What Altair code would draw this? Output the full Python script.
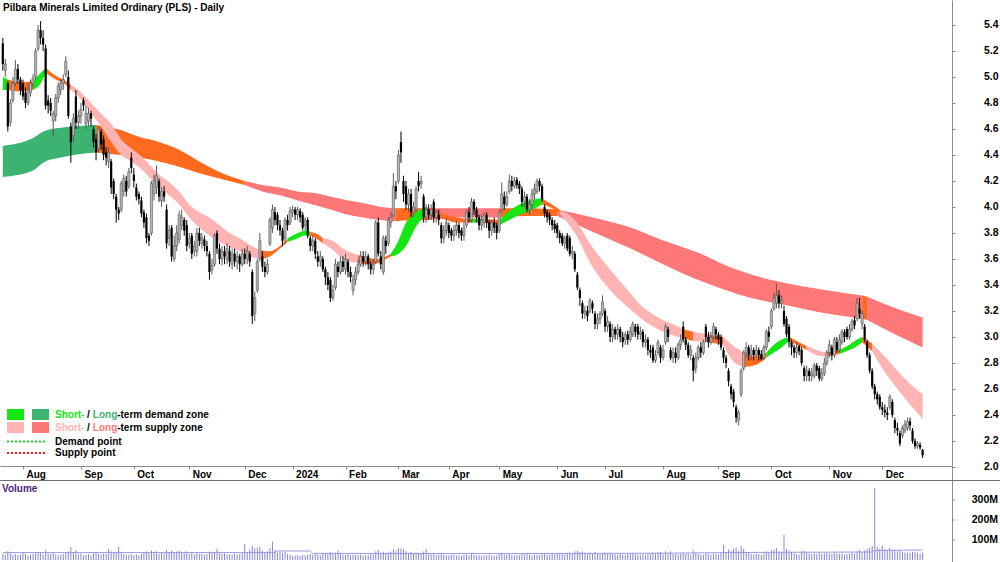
import altair as alt
import pandas as pd
import numpy as np

TITLE = "Pilbara Minerals Limited Ordinary (PLS) - Daily"
start_date = "2023-07-20"
asx_holidays = ["2023-12-25", "2023-12-26", "2024-01-01", "2024-01-26",
                "2024-03-29", "2024-04-01", "2024-04-25", "2024-06-10"]

# daily OHLC in cents
open_c = [526, 505, 495, 465, 482, 495, 506, 498, 495, 488,
          480, 488, 495, 500, 522, 536, 530, 522, 482, 480,
          466, 470, 484, 490, 495, 502, 500, 462, 455, 485,
          465, 470, 482, 464, 466, 472, 460, 452, 445, 458,
          452, 442, 435, 435, 420, 408, 398, 398, 412, 420,
          416, 438, 425, 415, 410, 405, 396, 392, 378, 380,
          410, 415, 420, 405, 412, 398, 376, 384, 360, 370,
          375, 386, 390, 386, 372, 378, 366, 366, 380, 372,
          375, 370, 364, 352, 356, 380, 368, 360, 366, 360,
          366, 356, 364, 358, 362, 356, 364, 360, 364, 350,
          318, 336, 360, 362, 354, 350, 372, 384, 396, 394,
          386, 382, 376, 390, 388, 396, 398, 394, 397, 394,
          386, 390, 376, 370, 374, 362, 358, 360, 352, 346,
          344, 330, 338, 354, 350, 358, 352, 358, 350, 336,
          344, 350, 356, 362, 358, 362, 356, 352, 358, 388,
          362, 350, 374, 372, 388, 394, 416, 420, 450, 420,
          416, 402, 410, 396, 398, 420, 418, 408, 392, 398,
          394, 404, 392, 394, 386, 376, 382, 386, 382, 378,
          382, 386, 382, 378, 386, 396, 390, 404, 398, 392,
          386, 388, 394, 388, 382, 388, 386, 382, 398, 408,
          402, 412, 420, 416, 421, 418, 414, 404, 408, 398,
          402, 410, 412, 420, 416, 400, 396, 394, 390, 387,
          386, 380, 378, 372, 378, 376, 364, 364, 348, 336,
          326, 318, 320, 320, 326, 318, 310, 314, 318, 320,
          308, 310, 300, 306, 302, 306, 300, 298, 302, 298,
          302, 308, 308, 302, 304, 296, 298, 290, 292, 282,
          288, 292, 284, 296, 306, 290, 284, 288, 284, 294,
          308, 298, 294, 286, 284, 276, 284, 292, 288, 308,
          300, 296, 300, 306, 302, 300, 290, 284, 274, 262,
          258, 246, 236, 256, 276, 288, 292, 286, 290, 286,
          290, 287, 284, 292, 304, 308, 322, 326, 332, 326,
          320, 314, 308, 296, 292, 288, 293, 290, 276, 270,
          274, 270, 270, 278, 276, 268, 272, 280, 288, 292,
          286, 296, 290, 296, 304, 306, 300, 306, 313, 314,
          322, 310, 308, 296, 286, 274, 262, 256, 254, 246,
          244, 242, 246, 250, 236, 230, 226, 224, 228, 230,
          235, 228, 220, 216, 217, 213]
high_c = [530, 514, 497, 483, 500, 513, 510, 500, 498, 492,
          495, 498, 502, 522, 540, 543, 536, 525, 486, 484,
          474, 487, 496, 498, 502, 516, 505, 465, 472, 490,
          474, 480, 484, 478, 476, 474, 462, 456, 462, 460,
          455, 446, 446, 437, 422, 410, 400, 420, 425, 424,
          430, 442, 430, 418, 412, 408, 398, 395, 380, 420,
          425, 432, 422, 415, 416, 402, 386, 386, 378, 386,
          397, 398, 392, 390, 380, 380, 374, 384, 384, 380,
          378, 374, 366, 360, 380, 382, 372, 370, 370, 372,
          370, 368, 368, 366, 364, 368, 368, 370, 366, 352,
          335, 360, 380, 366, 358, 360, 392, 402, 400, 396,
          390, 384, 392, 394, 400, 401, 400, 400, 399, 396,
          392, 392, 378, 378, 376, 366, 366, 362, 354, 350,
          346, 340, 360, 358, 362, 362, 364, 360, 354, 348,
          354, 360, 366, 366, 366, 364, 358, 360, 390, 392,
          366, 378, 378, 392, 396, 426, 420, 444, 458, 424,
          420, 414, 414, 404, 416, 427, 424, 410, 402, 402,
          402, 406, 398, 398, 388, 386, 392, 388, 384, 386,
          390, 388, 384, 388, 398, 400, 407, 406, 400, 394,
          394, 396, 396, 390, 390, 392, 388, 398, 419, 412,
          412, 425, 424, 423, 423, 420, 416, 412, 410, 406,
          414, 418, 422, 422, 418, 402, 398, 396, 392, 390,
          388, 382, 380, 378, 380, 378, 370, 366, 350, 338,
          328, 324, 324, 330, 328, 320, 318, 320, 332, 322,
          316, 312, 310, 308, 310, 308, 304, 304, 305, 308,
          312, 310, 310, 308, 306, 302, 300, 294, 294, 290,
          298, 294, 294, 310, 308, 292, 292, 292, 296, 302,
          312, 300, 296, 294, 286, 288, 294, 296, 298, 310,
          304, 304, 311, 308, 304, 302, 292, 286, 276, 264,
          260, 248, 244, 276, 290, 296, 294, 294, 292, 294,
          292, 290, 294, 306, 308, 322, 334, 341, 336, 332,
          324, 316, 310, 298, 294, 296, 294, 292, 278, 278,
          276, 276, 280, 280, 278, 276, 284, 290, 298, 294,
          300, 300, 302, 306, 306, 308, 310, 314, 316, 330,
          330, 320, 310, 298, 288, 276, 264, 258, 256, 250,
          248, 246, 256, 252, 238, 234, 228, 232, 236, 238,
          238, 230, 222, 220, 219, 214]
low_c = [505, 500, 458, 462, 480, 493, 495, 486, 482, 476,
         478, 485, 492, 498, 520, 525, 520, 475, 472, 470,
         454, 466, 480, 486, 490, 500, 468, 434, 450, 460,
         460, 464, 474, 460, 462, 462, 446, 436, 442, 444,
         436, 432, 430, 410, 406, 388, 390, 396, 408, 408,
         414, 426, 415, 405, 402, 392, 384, 372, 370, 378,
         405, 410, 404, 400, 404, 368, 370, 358, 358, 366,
         372, 382, 378, 366, 368, 360, 362, 362, 370, 368,
         366, 362, 344, 348, 354, 364, 356, 355, 356, 356,
         354, 352, 354, 352, 350, 354, 356, 356, 354, 310,
         312, 334, 358, 350, 346, 348, 370, 380, 386, 382,
         378, 370, 372, 382, 386, 392, 390, 390, 388, 382,
         382, 376, 366, 366, 360, 354, 354, 350, 340, 336,
         327, 328, 336, 346, 348, 350, 348, 346, 342, 332,
         340, 348, 354, 354, 355, 352, 348, 348, 356, 362,
         352, 348, 364, 370, 384, 392, 406, 418, 434, 404,
         398, 396, 392, 392, 396, 412, 414, 388, 388, 390,
         390, 388, 388, 386, 372, 372, 378, 376, 374, 374,
         378, 376, 374, 374, 384, 388, 388, 394, 388, 382,
         382, 384, 384, 376, 378, 380, 375, 380, 396, 398,
         400, 410, 412, 414, 414, 410, 400, 400, 396, 394,
         398, 406, 410, 412, 404, 392, 388, 386, 382, 380,
         376, 372, 370, 368, 366, 362, 360, 350, 336, 324,
         314, 314, 312, 318, 318, 306, 306, 310, 316, 304,
         304, 296, 296, 298, 298, 296, 292, 294, 294, 296,
         300, 300, 298, 298, 292, 292, 286, 284, 280, 280,
         286, 280, 282, 294, 296, 282, 280, 280, 282, 290,
         296, 290, 284, 282, 266, 272, 282, 284, 286, 296,
         292, 294, 298, 298, 294, 290, 280, 276, 262, 252,
         246, 234, 232, 254, 274, 284, 282, 282, 282, 284,
         282, 282, 282, 290, 296, 306, 320, 322, 322, 322,
         308, 300, 292, 286, 284, 284, 286, 278, 266, 266,
         266, 266, 268, 270, 266, 266, 270, 278, 284, 282,
         284, 288, 288, 294, 296, 298, 298, 304, 306, 312,
         314, 306, 296, 284, 272, 260, 252, 248, 244, 240,
         238, 236, 244, 238, 226, 224, 216, 222, 226, 228,
         228, 218, 214, 214, 213, 207]
close_c = [510, 510, 462, 480, 495, 506, 498, 490, 485, 480,
           490, 495, 499, 520, 536, 530, 525, 478, 478, 474,
           472, 484, 493, 495, 498, 512, 470, 450, 468, 465,
           470, 475, 478, 472, 472, 468, 450, 442, 460, 448,
           440, 438, 442, 415, 410, 398, 395, 418, 422, 412,
           427, 430, 420, 408, 406, 395, 388, 376, 374, 418,
           420, 424, 408, 412, 408, 372, 382, 362, 370, 380,
           394, 392, 382, 370, 376, 364, 370, 380, 374, 376,
           370, 366, 350, 355, 378, 368, 360, 366, 362, 368,
           358, 364, 358, 362, 356, 364, 360, 366, 358, 316,
           330, 358, 374, 354, 350, 356, 390, 398, 390, 386,
           382, 374, 390, 386, 397, 398, 394, 398, 392, 384,
           390, 378, 370, 374, 364, 358, 362, 352, 346, 340,
           330, 336, 356, 350, 358, 354, 360, 350, 346, 344,
           350, 356, 362, 358, 362, 356, 352, 356, 388, 364,
           356, 376, 370, 390, 392, 416, 412, 440, 442, 410,
           402, 410, 396, 400, 414, 416, 420, 392, 398, 394,
           398, 392, 396, 390, 376, 382, 388, 380, 378, 382,
           386, 380, 378, 384, 396, 392, 404, 398, 392, 386,
           390, 394, 388, 382, 388, 384, 380, 396, 410, 402,
           408, 420, 416, 420, 417, 414, 404, 408, 398, 402,
           410, 414, 420, 416, 406, 395, 392, 390, 386, 383,
           380, 376, 372, 376, 368, 364, 366, 352, 338, 330,
           318, 320, 316, 328, 322, 310, 314, 318, 327, 308,
           312, 300, 306, 302, 306, 300, 296, 302, 298, 304,
           310, 304, 302, 304, 296, 298, 290, 288, 282, 286,
           296, 284, 290, 308, 300, 284, 288, 284, 294, 298,
           298, 294, 286, 290, 274, 284, 292, 288, 296, 300,
           296, 300, 308, 302, 298, 292, 284, 280, 266, 256,
           250, 238, 242, 274, 288, 292, 286, 290, 286, 290,
           286, 283, 292, 304, 300, 320, 330, 332, 326, 328,
           310, 302, 296, 292, 288, 292, 289, 280, 270, 274,
           270, 272, 278, 274, 268, 272, 280, 288, 294, 286,
           298, 290, 298, 304, 300, 300, 306, 312, 309, 326,
           318, 318, 298, 286, 274, 262, 256, 252, 246, 244,
           242, 240, 254, 240, 230, 228, 218, 230, 233, 235,
           232, 220, 216, 218, 215, 209]
# daily volume, millions of shares
volume_m = [30, 28, 45, 32, 26, 30, 24, 28, 35, 30,
            22, 26, 30, 34, 40, 36, 28, 48, 32, 30,
            35, 28, 24, 26, 30, 34, 42, 65, 38, 50,
            28, 32, 24, 26, 30, 22, 34, 40, 30, 28,
            32, 30, 55, 44, 36, 40, 65, 34, 30, 28,
            26, 30, 24, 28, 22, 30, 36, 42, 34, 48,
            38, 44, 30, 36, 34, 50, 40, 48, 36, 42,
            46, 38, 32, 44, 30, 40, 28, 36, 30, 32,
            28, 30, 42, 34, 38, 55, 36, 30, 34, 28,
            30, 26, 32, 28, 30, 34, 80, 40, 52, 70,
            58, 62, 66, 48, 40, 44, 60, 92, 50, 38,
            42, 36, 40, 30, 26, 20, 22, 24, 20, 26,
            24, 28, 30, 26, 32, 28, 24, 30, 34, 36,
            40, 34, 38, 48, 30, 28, 26, 30, 24, 28,
            26, 24, 28, 22, 26, 24, 30, 28, 44, 50,
            36, 40, 32, 38, 42, 55, 46, 60, 58, 55,
            44, 36, 40, 32, 38, 34, 30, 42, 55, 32,
            28, 30, 24, 26, 30, 26, 22, 24, 26, 28,
            22, 24, 20, 26, 28, 24, 30, 26, 22, 24,
            20, 22, 24, 26, 22, 20, 24, 30, 34, 28,
            26, 30, 24, 22, 26, 24, 30, 28, 32, 26,
            24, 28, 26, 24, 30, 34, 28, 26, 30, 28,
            32, 30, 34, 28, 36, 38, 30, 44, 48, 40,
            42, 36, 34, 38, 30, 40, 32, 30, 34, 38,
            32, 36, 30, 28, 26, 30, 28, 26, 30, 32,
            34, 30, 28, 26, 30, 28, 34, 30, 38, 32,
            36, 40, 30, 44, 34, 42, 30, 32, 28, 30,
            36, 30, 34, 28, 48, 36, 30, 28, 26, 34,
            30, 28, 34, 30, 28, 36, 75, 40, 52, 46,
            58, 62, 44, 70, 56, 40, 34, 30, 28, 32,
            30, 26, 34, 42, 36, 48, 52, 60, 44, 38,
            125, 56, 48, 40, 34, 30, 28, 42, 46, 36,
            32, 30, 34, 28, 36, 30, 34, 38, 32, 30,
            36, 32, 30, 34, 28, 30, 32, 36, 30, 44,
            50, 40, 48, 56, 62, 70, 360, 66, 58, 72,
            54, 48, 60, 46, 52, 44, 50, 40, 38, 36,
            34, 40, 42, 36, 30, 38]
vol_ma_idx = [0, 108, 109, 122, 123, 200, 260, 300, 345, 346, 365]
vol_ma_m = [37, 37, 45, 45, 33, 32, 34, 38, 40, 48, 50]

# short-term zone knots (bar index, upper, lower) and colour runs
st_idx = [0, 2, 7, 12, 15, 17, 21, 25, 27, 30, 35, 39, 43, 47, 51, 55, 59, 62, 66,
          70, 74, 78, 82, 86, 90, 94, 98, 102, 106, 110, 113, 117, 120, 122, 125, 127,
          131, 135, 141, 145, 149, 152, 154, 157, 160, 164, 168, 172, 176, 180, 186, 190,
          197, 201, 205, 209, 214, 217, 221, 227, 234, 241, 248, 254, 261, 268, 270,
          274, 280, 286, 290, 294, 298, 303, 306, 309, 312, 316, 319, 323, 327, 332,
          336, 339, 341, 345, 350, 355, 360, 365]
st_hi = [5.00, 4.98, 4.96, 4.97, 5.03, 5.07, 5.01, 4.97, 4.94, 4.90, 4.80, 4.72, 4.64, 4.52, 4.45, 4.39, 4.31, 4.25, 4.19,
         4.12, 4.02, 3.96, 3.92, 3.86, 3.80, 3.76, 3.71, 3.67, 3.66, 3.70, 3.76, 3.80, 3.82, 3.81, 3.79, 3.76,
         3.74, 3.68, 3.63, 3.61, 3.60, 3.62, 3.64, 3.74, 3.88, 3.96, 4.00, 3.97, 3.94, 3.92, 3.91, 3.91,
         3.90, 3.97, 4.02, 4.05, 4.07, 4.03, 3.98, 3.90, 3.69, 3.52, 3.36, 3.23, 3.14, 3.08, 3.06,
         3.04, 3.02, 3.00, 2.93, 2.88, 2.85, 2.88, 2.94, 2.98, 3.00, 2.96, 2.93, 2.90, 2.88, 2.90,
         2.94, 2.98, 3.00, 2.95, 2.85, 2.74, 2.64, 2.56]
st_lo = [4.90, 4.90, 4.89, 4.90, 4.95, 5.03, 4.98, 4.94, 4.90, 4.85, 4.72, 4.62, 4.50, 4.40, 4.35, 4.29, 4.21, 4.15, 4.09,
         4.02, 3.92, 3.84, 3.78, 3.73, 3.69, 3.66, 3.62, 3.60, 3.62, 3.68, 3.73, 3.76, 3.78, 3.78, 3.75, 3.72,
         3.67, 3.60, 3.57, 3.56, 3.57, 3.60, 3.62, 3.64, 3.70, 3.85, 3.94, 3.92, 3.90, 3.88, 3.88, 3.88,
         3.86, 3.90, 3.94, 3.97, 4.02, 4.00, 3.95, 3.80, 3.54, 3.36, 3.23, 3.13, 3.05, 3.00, 2.99,
         2.97, 2.96, 2.94, 2.81, 2.77, 2.78, 2.84, 2.88, 2.92, 2.97, 2.93, 2.90, 2.86, 2.85, 2.87,
         2.90, 2.93, 2.96, 2.89, 2.73, 2.60, 2.48, 2.37]
st_breaks = [0, 2, 12, 17, 27, 102, 113, 122, 127, 141, 154, 168, 186, 190, 197, 214, 221,
             270, 274, 280, 286, 294, 303, 312, 319, 327, 332, 341, 345, 365]
st_states = ["sd", "tr", "sd", "tr", "ss", "tr", "sd", "tr", "ss", "tr", "sd", "tr", "sd", "tr",
             "sd", "tr", "ss", "tr", "ss", "tr", "ss", "tr", "sd", "tr", "ss", "tr", "sd", "tr", "ss"]

# long-term zone knots and colour runs
lt_idx = [0, 12, 16, 23, 28, 37, 47, 54, 62, 70, 78, 86, 96, 103, 110, 117, 123, 130, 137, 143,
          150, 156, 163, 169, 181, 197, 208, 220, 234, 248, 261, 277, 287, 297, 307, 317, 327,
          341, 343, 353, 365]
lt_hi = [4.47, 4.53, 4.58, 4.61, 4.62, 4.63, 4.59, 4.54, 4.50, 4.44, 4.35, 4.27, 4.20, 4.17, 4.15, 4.12, 4.11, 4.08, 4.05, 4.03,
         4.00, 3.99, 3.99, 3.99, 3.99, 3.99, 3.99, 3.98, 3.92, 3.85, 3.75, 3.64, 3.55, 3.48, 3.43, 3.39, 3.36,
         3.32, 3.31, 3.23, 3.15]
lt_lo = [4.23, 4.28, 4.34, 4.38, 4.40, 4.42, 4.40, 4.38, 4.35, 4.31, 4.26, 4.22, 4.17, 4.12, 4.09, 4.05, 4.02, 3.98, 3.94, 3.92,
         3.90, 3.89, 3.90, 3.90, 3.92, 3.92, 3.93, 3.93, 3.81, 3.69, 3.57, 3.43, 3.36, 3.30, 3.26, 3.22, 3.18,
         3.14, 3.13, 3.03, 2.92]
lt_breaks = [0, 37, 96, 156, 169, 197, 220, 341, 343, 365]
lt_states = ["ld", "tr", "ls", "tr", "ls", "tr", "ls", "tr", "ls"]

price_ticks = [2.0, 2.2, 2.4, 2.6, 2.8, 3.0, 3.2, 3.4, 3.6, 3.8, 4.0, 4.2, 4.4, 4.6, 4.8, 5.0, 5.2, 5.4]
vol_ticks = [100, 200, 300]
vol_tick_labels = ["100M", "200M", "300M"]

zone_states = ["ld", "ls", "sd", "ss", "tr"]
zone_colors = ["#3cb371", "#ff7878", "#14e614", "#ffb4b4", "#ff6a1f"]

FONT = "Liberation Sans"

# ---------------- build tables ----------------
N = len(close_c)
dates = pd.bdate_range(start=start_date, periods=N, freq="C", holidays=asx_holidays)

cd = pd.DataFrame({
    "i": np.arange(N),
    "open": np.array(open_c) / 100.0,
    "high": np.array(high_c) / 100.0,
    "low": np.array(low_c) / 100.0,
    "close": np.array(close_c) / 100.0,
    "vol": volume_m,
})
cd["top"] = cd[["open", "close"]].max(axis=1)
cd["bot"] = cd[["open", "close"]].min(axis=1)
cd["high"] = cd[["high", "top"]].max(axis=1)
cd["low"] = cd[["low", "bot"]].min(axis=1)
cd["dir"] = np.where(cd["close"] >= cd["open"], "up", "down")


def zone_rows(idx, hi, lo, breaks, states, band):
    rows = []
    for k, st in enumerate(states):
        a, b = breaks[k], breaks[k + 1]
        for j, ix in enumerate(idx):
            if a <= ix <= b:
                rows.append({"i": ix, "hi": hi[j], "lo": lo[j], "seg": f"{band}{k}", "state": st})
    return pd.DataFrame(rows)


lt_df = zone_rows(lt_idx, lt_hi, lt_lo, lt_breaks, lt_states, "L")
st_df = zone_rows(st_idx, st_hi, st_lo, st_breaks, st_states, "S")
ma_df = pd.DataFrame({"i": vol_ma_idx, "v": vol_ma_m})
vt_df = pd.DataFrame({"v": vol_ticks, "label": vol_tick_labels})

tick_idx, tick_lab = [], []
for k in range(1, N):
    if dates[k].month != dates[k - 1].month:
        tick_idx.append(k)
        tick_lab.append(str(dates[k].year) if dates[k].month == 1 else dates[k].strftime("%b"))
label_expr = " : ".join(f"datum.value == {k} ? '{l}'" for k, l in zip(tick_idx, tick_lab)) + " : ''"

# ---------------- scales / axes ----------------
W, H = 952, 562
x_axis = alt.Axis(values=tick_idx, labelExpr=label_expr, orient="bottom", offset=-96, grid=False,
                  domainColor="#8c8c8c", tickColor="#8c8c8c", tickSize=3, labelFont=FONT,
                  labelFontSize=10, labelFontWeight="bold", labelColor="#000000", labelAlign="left",
                  labelBaseline="top", labelPadding=0, labelOffset=3, labelFlush=False,
                  labelOverlap=False, title=None)
x_enc = alt.X("i:Q", scale=alt.Scale(domain=[-1.111, 376.67], nice=False, zero=False, padding=0),
              axis=x_axis)

price_scale = alt.Scale(domain=[1.2692, 5.5923], nice=False, zero=False, padding=0)
price_axis = alt.Axis(orient="right", values=price_ticks, format=".1f", grid=False,
                      domainColor="#8c8c8c", tickColor="#8c8c8c", tickSize=3, labelFont=FONT,
                      labelFontSize=10.5, labelFontWeight="bold", labelColor="#000000",
                      labelAlign="right", labelBaseline="middle", labelPadding=43, title=None)
vol_scale = alt.Scale(domain=[-10, 2800], nice=False, zero=False, padding=0)
zone_scale = alt.Scale(domain=zone_states, range=zone_colors)

# ---------------- price layers ----------------
lt_area = alt.Chart(lt_df).mark_area(interpolate="monotone").encode(
    x=x_enc, y=alt.Y("hi:Q", scale=price_scale, axis=price_axis), y2="lo:Q",
    color=alt.Color("state:N", scale=zone_scale, legend=None), detail="seg:N")
st_area = alt.Chart(st_df).mark_area(interpolate="monotone").encode(
    x=x_enc, y=alt.Y("hi:Q", scale=price_scale, axis=price_axis), y2="lo:Q",
    color=alt.Color("state:N", scale=zone_scale, legend=None), detail="seg:N")

base = alt.Chart(cd)
wick_up = base.transform_filter("datum.dir == 'up'").mark_rule(color="#5a5a5a", strokeWidth=1).encode(
    x=x_enc, y=alt.Y("low:Q", scale=price_scale, axis=price_axis), y2="high:Q")
wick_dn = base.transform_filter("datum.dir == 'down'").mark_rule(color="#000000", strokeWidth=1).encode(
    x=x_enc, y=alt.Y("low:Q", scale=price_scale, axis=price_axis), y2="high:Q")
body_up = base.transform_filter("datum.dir == 'up'").mark_bar(
    size=2.2, fill="#b8b8b8", stroke="#555555", strokeWidth=0.6).encode(
    x=x_enc, y=alt.Y("top:Q", scale=price_scale, axis=price_axis), y2="bot:Q")
body_dn = base.transform_filter("datum.dir == 'down'").mark_bar(size=2.2, color="#000000").encode(
    x=x_enc, y=alt.Y("top:Q", scale=price_scale, axis=price_axis), y2="bot:Q")

price = alt.layer(lt_area, st_area, wick_up, wick_dn, body_up, body_dn)

# ---------------- volume layers ----------------
vol_bars = base.mark_bar(size=1, color="#8686da").encode(
    x=x_enc, y=alt.Y("vol:Q", scale=vol_scale, axis=None), y2=alt.datum(0))
vol_ma = alt.Chart(ma_df).mark_line(color="#9a9ae2", strokeWidth=1).encode(
    x=x_enc, y=alt.Y("v:Q", scale=vol_scale, axis=None))
vol_lab = alt.Chart(vt_df).mark_text(align="right", baseline="middle", font=FONT, fontSize=10.5,
                                     fontWeight="bold", color="#000000").encode(
    x=alt.value(998), y=alt.Y("v:Q", scale=vol_scale, axis=None), text="label:N")
vol_tick = alt.Chart(vt_df).mark_rule(color="#8c8c8c").encode(
    x=alt.value(952), x2=alt.value(955), y=alt.Y("v:Q", scale=vol_scale, axis=None))
volume = alt.layer(vol_bars, vol_ma, vol_tick, vol_lab)

# ---------------- decorations ----------------
one = pd.DataFrame({"k": [0]})


def txt(x, y, s, color="#000000", size=10):
    return alt.Chart(one).mark_text(align="left", baseline="middle", font=FONT, fontSize=size,
                                    fontWeight="bold", color=color).encode(
        x=alt.value(x), y=alt.value(y), text=alt.value(s))


def box(x1, x2, y1, y2, color):
    return alt.Chart(one).mark_rect(color=color).encode(
        x=alt.value(x1), x2=alt.value(x2), y=alt.value(y1), y2=alt.value(y2))


def hline(x1, x2, y, color, width=1.0, dash=None):
    kw = {"color": color, "strokeWidth": width}
    if dash:
        kw["strokeDash"] = dash
    return alt.Chart(one).mark_rule(**kw).encode(x=alt.value(x1), x2=alt.value(x2), y=alt.value(y))


deco = alt.layer(
    hline(0, 1000, 480.5, "#707070"),
    txt(3, 8, TITLE, size=10),
    txt(2, 489, "Volume", color="#4c1d80"),
    box(7, 24, 409, 420, "#14e614"), box(32, 49, 409, 420, "#3cb371"),
    box(7, 24, 422, 433, "#ffb4b4"), box(32, 49, 422, 433, "#ff7878"),
    txt(55, 414.5, "Short-", color="#14e614"), txt(87, 414.5, "/"),
    txt(92.8, 414.5, "Long", color="#3cb371"), txt(117.2, 414.5, "-term demand zone"),
    txt(55, 427.5, "Short-", color="#ffb4b4"), txt(87, 427.5, "/"),
    txt(92.8, 427.5, "Long", color="#ff7878"), txt(117.2, 427.5, "-term supply zone"),
    hline(7, 47, 441.5, "#14d814", 2, [2, 2]), txt(55, 441.5, "Demand point"),
    hline(7, 47, 453, "#ff1010", 2, [2, 2]), txt(55, 453, "Supply point"),
)

chart = alt.layer(price, volume, deco).resolve_scale(y="independent").properties(
    width=W, height=H,
    padding={"left": 0, "top": 0, "right": 48, "bottom": 0},
    autosize=alt.AutoSizeParams(type="none"),
    background="white",
).configure_view(stroke=None)

chart.save("out.html", embed_options={"renderer": "svg", "actions": False})
